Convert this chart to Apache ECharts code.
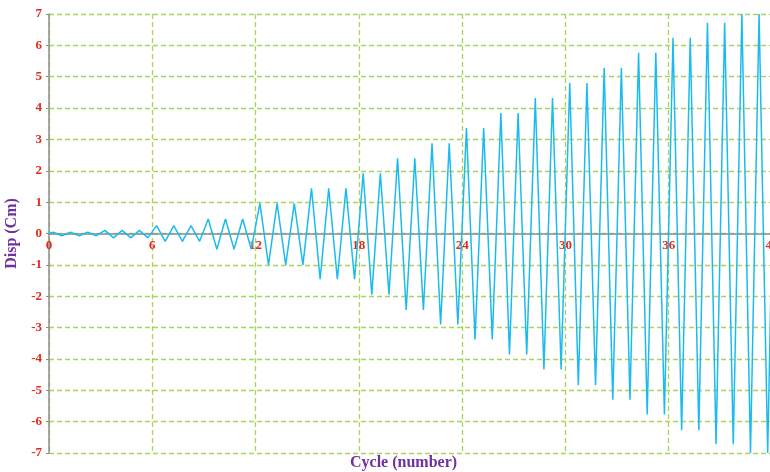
<!DOCTYPE html>
<html>
<head>
<meta charset="utf-8">
<script src="https://cdn.jsdelivr.net/npm/echarts@6/dist/echarts.min.js"></script>
<style>
  html, body { margin: 0; padding: 0; background: #ffffff; }
  #chart { width: 770px; height: 472px; }
</style>
</head>
<body>
<div id="chart"></div>
<script>
// Cyclic loading history: one positive and one negative displacement peak per cycle
const cycles = [
  0, 1, 2, 3, 4, 5, 6, 7, 8, 9, 10, 11, 12, 13, 14, 15, 16, 17, 18, 19, 20,
  21, 22, 23, 24, 25, 26, 27, 28, 29, 30, 31, 32, 33, 34, 35, 36, 37, 38, 39, 40, 41
];
const peakDisp = [
  0.04, 0.04, 0.04, 0.10, 0.10, 0.10, 0.25, 0.25, 0.25, 0.46, 0.46, 0.46,
  0.96, 0.96, 0.96, 1.44, 1.44, 1.44, 1.92, 1.92, 2.40, 2.40, 2.88, 2.88,
  3.36, 3.36, 3.84, 3.84, 4.32, 4.32, 4.80, 4.80, 5.28, 5.28, 5.76, 5.76,
  6.24, 6.24, 6.72, 6.72, 7.00, 7.00
];
const troughDisp = [
  -0.07, -0.07, -0.07, -0.14, -0.14, -0.14, -0.25, -0.25, -0.25, -0.50, -0.50, -0.50,
  -1.00, -1.00, -1.00, -1.46, -1.46, -1.46, -1.95, -1.95, -2.44, -2.44, -2.90, -2.90,
  -3.38, -3.38, -3.86, -3.86, -4.34, -4.34, -4.84, -4.84, -5.30, -5.30, -5.77, -5.77,
  -6.27, -6.27, -6.72, -6.72, -7.00, -7.00
];
const xTicks = [0, 6, 12, 18, 24, 30, 36, 42];
const yTicks = [-7, -6, -5, -4, -3, -2, -1, 0, 1, 2, 3, 4, 5, 6, 7];

// Build the zig-zag path: start at rest, peak at a quarter cycle, trough at three quarters
const path = [[0, 0]];
cycles.forEach((c, i) => {
  path.push([c + 0.25, peakDisp[i]]);
  path.push([c + 0.75, troughDisp[i]]);
});
path.push([cycles[cycles.length - 1] + 1, 0]);

const serif = '"Liberation Serif", "Times New Roman", serif';
const labelFont = {
  color: '#e02a1c',
  fontFamily: serif,
  fontWeight: 'bold',
  fontSize: 13
};
const gridLine = {
  show: true,
  lineStyle: { color: '#a6d65c', type: [5, 3], width: 1.3 }
};

// Plot box and the pixel lift that puts the cycle axis on the zero line
const chartH = 472;
const gridBox = { left: 49, right: -2, top: 14, bottom: 19 };
const plotH = chartH - gridBox.top - gridBox.bottom;
const yMin = yTicks[0];
const yMax = yTicks[yTicks.length - 1];
const zeroLift = -plotH * (0 - yMin) / (yMax - yMin);

const chart = echarts.init(document.getElementById('chart'), null, { renderer: 'canvas' });
chart.setOption({
  animation: false,
  backgroundColor: '#ffffff',
  grid: Object.assign({ containLabel: false, outerBoundsMode: 'none' }, gridBox),
  xAxis: {
    type: 'value',
    min: xTicks[0],
    max: xTicks[xTicks.length - 1],
    interval: 6,
    position: 'bottom',
    offset: zeroLift,
    axisLine: { onZero: false, lineStyle: { color: '#8c8c8c', width: 1.5 } },
    axisTick: { show: false },
    axisLabel: Object.assign({ margin: 6 }, labelFont),
    splitLine: gridLine
  },
  yAxis: {
    type: 'value',
    min: yMin,
    max: yMax,
    interval: 1,
    axisLine: { show: true, onZero: false, lineStyle: { color: '#8c8c8c', width: 1.5 } },
    axisTick: { show: true, length: 3, lineStyle: { color: '#8c8c8c' } },
    axisLabel: Object.assign({ margin: 7 }, labelFont),
    splitLine: gridLine,
    name: 'Disp (Cm)',
    nameLocation: 'middle',
    nameGap: 29,
    nameTextStyle: {
      color: '#7030a0',
      fontFamily: serif,
      fontWeight: 'bold',
      fontSize: 16
    }
  },
  graphic: [{
    type: 'text',
    left: 350,
    top: 455,
    style: {
      text: 'Cycle (number)',
      fill: '#7030a0',
      font: 'bold 16px ' + serif
    }
  }],
  series: [{
    type: 'line',
    data: path,
    showSymbol: false,
    symbol: 'none',
    clip: true,
    lineStyle: { color: '#1cbbee', width: 1.5 }
  }]
});
</script>
</body>
</html>
